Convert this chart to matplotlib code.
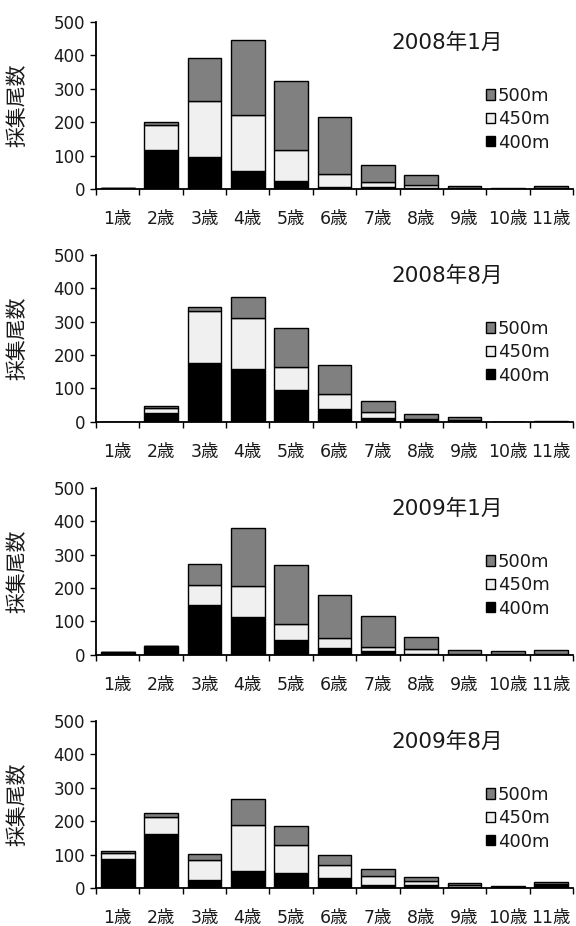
import matplotlib
matplotlib.use("Agg")
import matplotlib.pyplot as plt
import numpy as np

plt.rcParams['font.family'] = ['DejaVu Sans', 'Noto Sans CJK JP']

ages = ["1歳", "2歳", "3歳", "4歳", "5歳", "6歳", "7歳", "8歳", "9歳", "10歳", "11歳"]
titles = ["2008年1月", "2008年8月", "2009年1月", "2009年8月"]
series_names = ["500m", "450m", "400m"]
y_ticks = [0, 100, 200, 300, 400, 500]
ylabel = "採集尾数"

# 2008年1月
p1_400 = [2, 115, 97, 55, 24, 6, 6, 3, 1, 1, 2]
p1_450 = [0, 76, 167, 165, 91, 39, 15, 9, 1, 0, 1]
p1_500 = [1, 10, 126, 224, 208, 170, 52, 29, 6, 2, 6]
# 2008年8月
p2_400 = [1, 28, 177, 159, 95, 40, 11, 5, 3, 0, 1]
p2_450 = [0, 14, 153, 151, 69, 43, 19, 3, 2, 0, 0]
p2_500 = [0, 6, 13, 62, 116, 86, 33, 15, 10, 0, 2]
# 2009年1月
p3_400 = [9, 28, 149, 113, 45, 20, 13, 3, 1, 1, 2]
p3_450 = [0, 0, 60, 92, 48, 30, 12, 16, 1, 1, 1]
p3_500 = [0, 0, 62, 174, 177, 128, 90, 34, 12, 11, 11]
# 2009年8月
p4_400 = [88, 162, 23, 50, 46, 29, 8, 10, 2, 2, 10]
p4_450 = [17, 51, 60, 139, 83, 40, 27, 12, 8, 1, 3]
p4_500 = [7, 10, 20, 77, 55, 30, 23, 12, 5, 2, 6]

panels = [
    (p1_400, p1_450, p1_500),
    (p2_400, p2_450, p2_500),
    (p3_400, p3_450, p3_500),
    (p4_400, p4_450, p4_500),
]

col500 = "#808080"
col450 = "#f0f0f0"
col400 = "#000000"
text_col = "#1a1a1a"

fig = plt.figure(figsize=(5.76, 9.26), dpi=100)
bottoms = [0.7959, 0.5443, 0.2927, 0.0410]
h = 0.1808
for idx, (v400, v450, v500) in enumerate(panels):
    ax = fig.add_axes([0.1667, bottoms[idx], 0.828, h])
    x = np.arange(len(ages))
    v400 = np.array(v400); v450 = np.array(v450); v500 = np.array(v500)
    w = 0.78
    b400 = ax.bar(x, v400, width=w, color=col400, edgecolor="black", linewidth=1.0)
    b450 = ax.bar(x, v450, width=w, bottom=v400, color=col450, edgecolor="black", linewidth=1.0)
    b500 = ax.bar(x, v500, width=w, bottom=v400 + v450, color=col500, edgecolor="black", linewidth=1.0)
    ax.set_xlim(-0.5, len(ages) - 0.5)
    ax.set_ylim(0, 500)
    ax.set_yticks(y_ticks)
    ax.set_yticklabels([str(t) for t in y_ticks], fontsize=12, color=text_col)
    ax.set_xticks(x)
    ax.set_xticklabels(ages, fontsize=12.5, color=text_col)
    ax.set_xticks(np.arange(-0.5, len(ages), 1.0), minor=True)
    ax.tick_params(axis='x', which='major', length=0, pad=15)
    ax.tick_params(axis='x', which='minor', length=4, width=1.0, direction='out')
    ax.tick_params(axis='y', length=4, width=1.0, direction='out', pad=4)
    for s in ['top', 'right']:
        ax.spines[s].set_visible(False)
    for s in ['left', 'bottom']:
        ax.spines[s].set_linewidth(1.3)
        ax.spines[s].set_color('black')
    ax.set_ylabel(ylabel, fontsize=15, color=text_col)
    ax.yaxis.set_label_coords(-0.143, 0.5)
    ax.text(0.736, 0.872, titles[idx], transform=ax.transAxes, fontsize=15.5,
            ha='center', va='center', color=text_col)
    leg = ax.legend([b500, b450, b400], series_names, loc='upper left',
                    bbox_to_anchor=(0.818, 0.61), frameon=False, fontsize=13,
                    handlelength=0.5, handleheight=0.5, handletextpad=0.15,
                    labelspacing=0.3, borderaxespad=0, borderpad=0)
    for t in leg.get_texts():
        t.set_color(text_col)

fig.savefig("out.png", dpi=100)
